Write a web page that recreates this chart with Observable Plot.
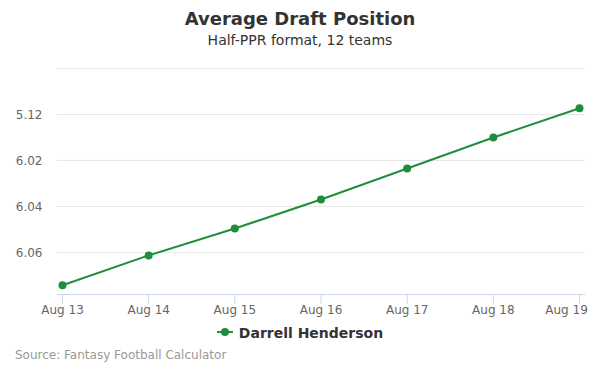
<!DOCTYPE html>
<html>
<head>
<meta charset="utf-8">
<script src="https://cdn.jsdelivr.net/npm/d3@7"></script>
<script src="https://cdn.jsdelivr.net/npm/@observablehq/plot@0.6"></script>
<style>
  body { margin: 0; background: #fff; font-family: "DejaVu Sans", Verdana, sans-serif; }
  #wrap { position: relative; width: 600px; height: 375px; overflow: hidden; }
  #title { position: absolute; top: 8px; left: 0; width: 600px; text-align: center; font-size: 18px; font-weight: bold; color: #333; }
  #subtitle { position: absolute; top: 32px; left: 0; width: 600px; text-align: center; font-size: 14px; color: #333; }
  #chart { position: absolute; top: 50px; left: 0; }
  #legend { position: absolute; top: 325px; left: 0; width: 600px; text-align: center; font-size: 14px; font-weight: bold; color: #333; }
  #legend svg { vertical-align: middle; margin-right: 6px; position: relative; top: -2px; }
  #source { position: absolute; top: 348px; left: 15px; font-size: 12px; color: #999; }
</style>
</head>
<body>
<div id="wrap">
  <div id="title">Average Draft Position</div>
  <div id="subtitle">Half-PPR format, 12 teams</div>
  <div id="chart"></div>
  <div id="legend"></div>
  <div id="source">Source: Fantasy Football Calculator</div>
</div>
<script>
// Data (overall pick number; 12-team league)
const dates = ["2019-08-13", "2019-08-14", "2019-08-15", "2019-08-16", "2019-08-17", "2019-08-18", "2019-08-19"];
const adp = [67.43, 66.13, 64.96, 63.70, 62.35, 61.00, 59.73];
const playerName = "Darrell Henderson";
const gridPicks = [58, 60, 62, 64, 66];
const labelPicks = [60, 62, 64, 66];
const teams = 12;
const yDomain = [58, 67.83];
const lineColor = "#1d8f3c";

const data = dates.map((d, i) => ({date: new Date(d + "T00:00:00Z"), pick: adp[i]}));
const fmtPick = p => {
  const r = Math.ceil(p / teams);
  const k = Math.round(p - teams * (r - 1));
  return r + "." + String(k).padStart(2, "0");
};
const fmtDate = d3.utcFormat("%b %d");
const allDates = data.map(d => d.date);

const chart = Plot.plot({
  width: 600,
  height: 270,
  marginTop: 18,
  marginBottom: 26,
  marginLeft: 57,
  marginRight: 15,
  style: {fontFamily: "DejaVu Sans, Verdana, sans-serif", fontSize: "12px", background: "#fff"},
  x: {type: "utc", domain: [allDates[0], allDates[allDates.length - 1]], insetLeft: 5, insetRight: 6},
  y: {domain: yDomain, reverse: true},
  marks: [
    Plot.ruleY(gridPicks, {stroke: "#e6e6e6", strokeWidth: 1}),
    Plot.ruleY([yDomain[1]], {stroke: "#ccd6eb", strokeWidth: 1}),
    Plot.axisY({ticks: labelPicks, tickSize: 0, tickPadding: 15, tickFormat: fmtPick, fill: "#666", fontSize: 12, label: null, dy: 1}),
    Plot.axisX({ticks: allDates, tickSize: 10, tickFormat: () => "", stroke: "#ccd6eb", label: null}),
    Plot.axisX({ticks: allDates.slice(0, -1), tickSize: 0, tickPadding: 11, tickFormat: fmtDate, fill: "#666", fontSize: 12, label: null}),
    Plot.axisX({ticks: allDates.slice(-1), tickSize: 0, tickPadding: 11, tickFormat: fmtDate, fill: "#666", fontSize: 12, label: null, dx: -13}),
    Plot.line(data, {x: "date", y: "pick", stroke: lineColor, strokeWidth: 2}),
    Plot.dot(data, {x: "date", y: "pick", r: 4, fill: lineColor, stroke: null})
  ]
});
document.getElementById("chart").appendChild(chart);

// Legend
const legend = document.getElementById("legend");
legend.innerHTML = `<svg width="16" height="10"><line x1="0" x2="16" y1="5" y2="5" stroke="${lineColor}" stroke-width="2"></line><circle cx="8" cy="5" r="4" fill="${lineColor}"></circle></svg>`;
legend.appendChild(document.createTextNode(playerName));
</script>
</body>
</html>
